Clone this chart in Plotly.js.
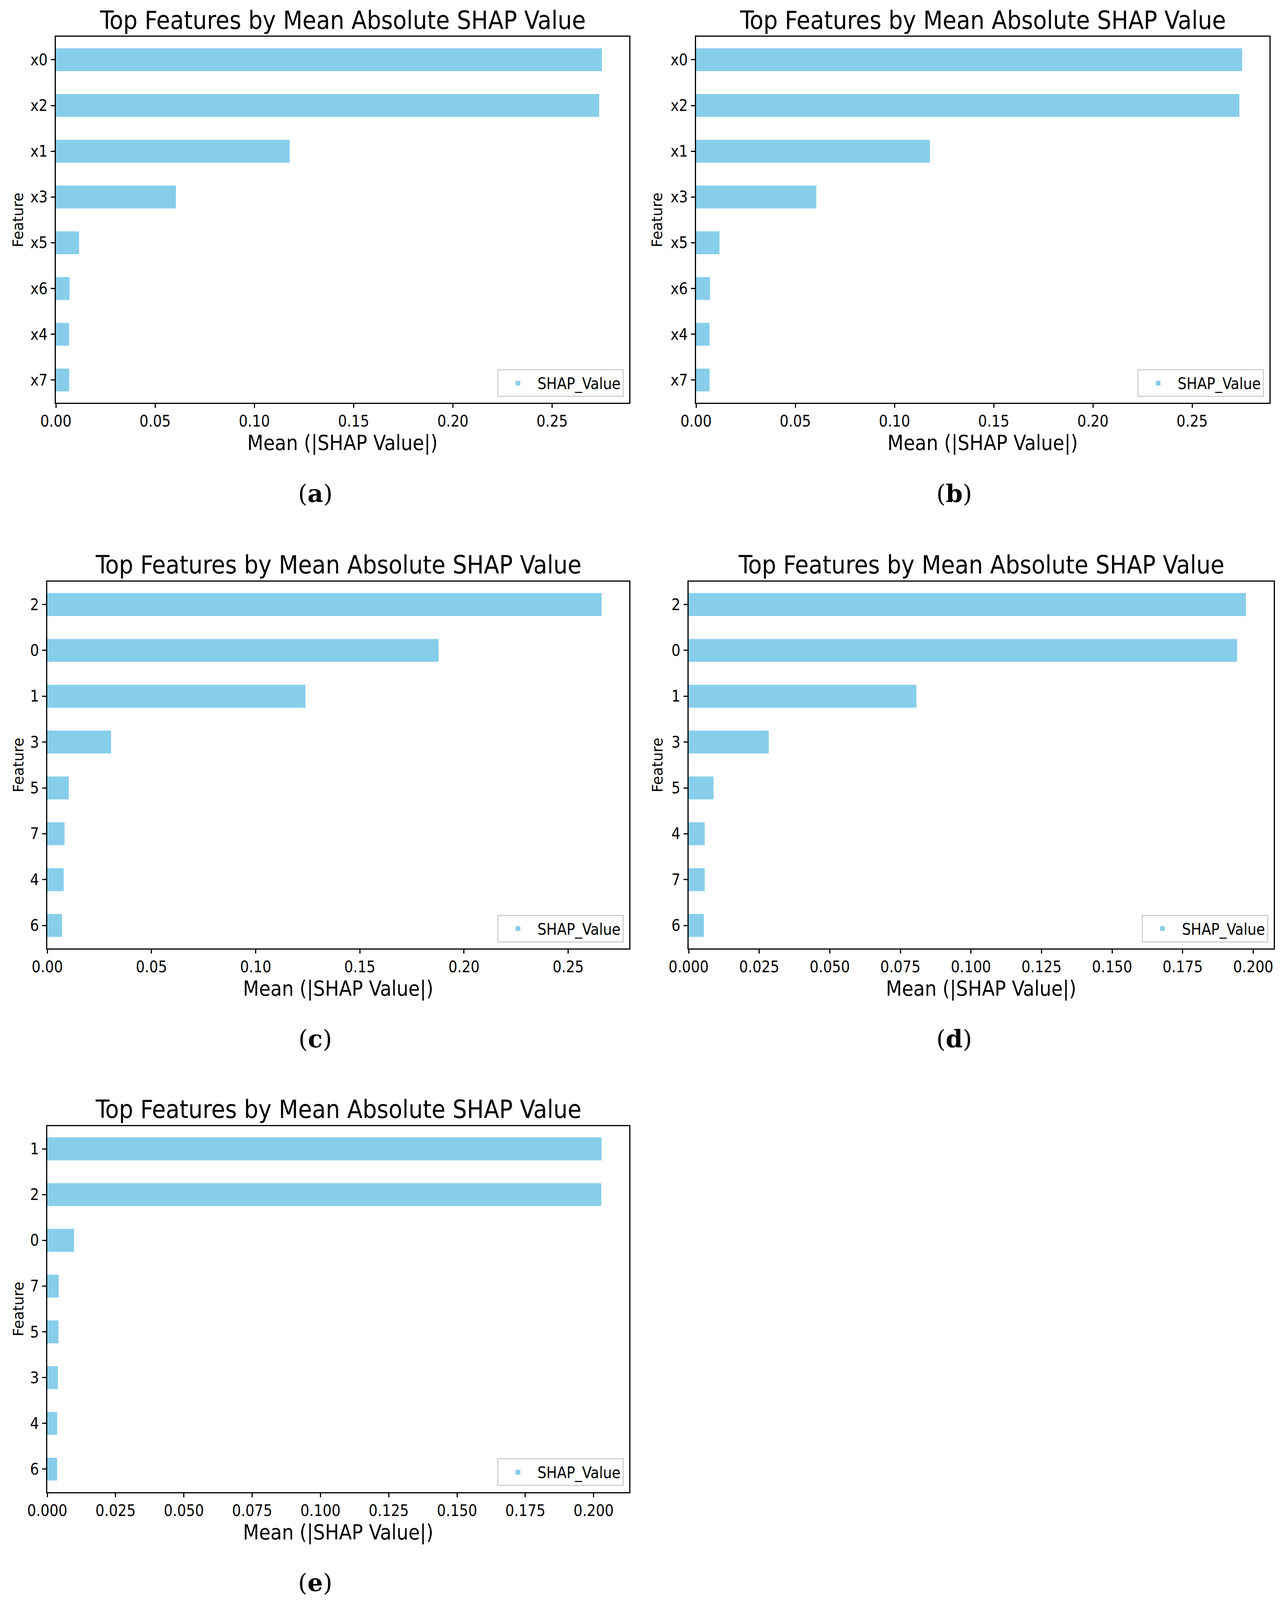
<!DOCTYPE html>
<html>
<head>
<meta charset="utf-8">
<script src="https://cdn.plot.ly/plotly-3.0.1.min.js"></script>
<style>
  html, body { margin: 0; padding: 0; background: #fff; overflow: hidden; }
  #chart { width: 3277px; }
</style>
</head>
<body>
<div id="chart"></div>
<script>
// feature order (top to bottom) and mean |SHAP| per panel
const featuresA = ['x0', 'x2', 'x1', 'x3', 'x5', 'x6', 'x4', 'x7'];
const valuesA = [0.2751, 0.2737, 0.1178, 0.0605, 0.0117, 0.0069, 0.0067, 0.0067];

const featuresB = ['x0', 'x2', 'x1', 'x3', 'x5', 'x6', 'x4', 'x7'];
const valuesB = [0.2752, 0.2738, 0.1179, 0.0606, 0.0118, 0.0070, 0.0068, 0.0068];

const featuresC = ['2', '0', '1', '3', '5', '7', '4', '6'];
const valuesC = [0.2660, 0.1878, 0.1239, 0.0306, 0.0103, 0.0083, 0.0079, 0.0071];

const featuresD = ['2', '0', '1', '3', '5', '4', '7', '6'];
const valuesD = [0.1974, 0.1943, 0.0807, 0.0284, 0.0088, 0.0057, 0.0057, 0.0054];

const featuresE = ['1', '2', '0', '7', '5', '3', '4', '6'];
const valuesE = [0.2029, 0.2028, 0.0098, 0.0042, 0.0041, 0.0039, 0.0036, 0.0036];

const panelLabels = ['a', 'b', 'c', 'd', 'e'];
const chartTitle = 'Top Features by Mean Absolute SHAP Value';
const xTitle = 'Mean (|SHAP Value|)';
const yTitle = 'Feature';
const seriesName = 'SHAP_Value';

// layout is measured on a 3277x4297 sheet; the page is drawn into whatever height the window gives
const W = 3277, REF_H = 4297;
const H = Math.min(REF_H, window.innerHeight || REF_H);
const SANS = 'DejaVu Sans Condensed, DejaVu Sans, sans-serif';
const BAR = '#87CEEB';

// plot boxes in sheet pixels: left, right, top, bottom
const boxes = [
	[143, 1611, 99, 1082],
	[1782, 3250, 99, 1082],
	[121, 1611, 1562, 2547],
	[1763, 3261, 1562, 2547],
	[121, 1611, 3024, 4007]
];
// x of the rotated "Feature" label and of the (a)..(e) caption
const yTitleX = [47, 1683, 47, 1683, 47];
const captionX = [807, 2443, 807, 2443, 807];

const panels = [
	{ f: featuresA, v: valuesA, dtick: 0.05, fmt: '.2f' },
	{ f: featuresB, v: valuesB, dtick: 0.05, fmt: '.2f' },
	{ f: featuresC, v: valuesC, dtick: 0.05, fmt: '.2f' },
	{ f: featuresD, v: valuesD, dtick: 0.025, fmt: '.3f' },
	{ f: featuresE, v: valuesE, dtick: 0.025, fmt: '.3f' }
];

const px = x => x / W;
const py = y => 1 - y / REF_H;

const traces = [];
const layout = {
	width: W,
	height: H,
	margin: { l: 0, r: 0, t: 0, b: 0 },
	paper_bgcolor: '#fff',
	plot_bgcolor: '#fff',
	showlegend: true,
	bargap: 0.5,
	annotations: []
};

panels.forEach((p, i) => {
	const n = i + 1;
	const sfx = n === 1 ? '' : String(n);
	const [l, r, t, b] = boxes[i];
	const legendKey = 'legend' + sfx;

	traces.push({
		type: 'bar',
		orientation: 'h',
		x: p.v,
		y: p.f,
		name: seriesName,
		marker: { color: BAR, line: { width: 0 } },
		xaxis: 'x' + sfx,
		yaxis: 'y' + sfx,
		legend: legendKey,
		hoverinfo: 'x+y'
	});

	const axisCommon = {
		showline: true,
		linecolor: '#000',
		linewidth: 3,
		mirror: true,
		showgrid: false,
		zeroline: false,
		ticks: 'outside',
		ticklen: 10,
		tickwidth: 3,
		tickcolor: '#000',
		automargin: false,
		tickfont: { family: SANS, size: 40, color: '#000' }
	};

	layout['xaxis' + sfx] = Object.assign({}, axisCommon, {
		domain: [px(l), px(r)],
		anchor: 'y' + sfx,
		range: [0, Math.max(...p.v) * 1.05],
		dtick: p.dtick,
		tick0: 0,
		tickformat: p.fmt
	});
	layout['yaxis' + sfx] = Object.assign({}, axisCommon, {
		domain: [py(b), py(t)],
		anchor: 'x' + sfx,
		type: 'category',
		categoryorder: 'array',
		categoryarray: p.f,
		range: [p.f.length - 0.5, -0.5]
	});

	layout[legendKey] = {
		x: px(r - 14),
		y: py(b - 16),
		xanchor: 'right',
		yanchor: 'bottom',
		bgcolor: 'rgba(255,255,255,0.8)',
		bordercolor: '#d0d0d0',
		borderwidth: 3,
		font: { family: SANS, size: 40, color: '#000' },
		itemwidth: 90
	};

	const cx = (l + r) / 2;
	layout.annotations.push(
		{
			text: chartTitle, xref: 'paper', yref: 'paper',
			x: px(cx), y: py(t - 4), xanchor: 'center', yanchor: 'bottom',
			showarrow: false, font: { family: SANS, size: 64, color: '#000' }
		},
		{
			text: xTitle, xref: 'paper', yref: 'paper',
			x: px(cx), y: py(b + 108), xanchor: 'center', yanchor: 'middle',
			showarrow: false, font: { family: SANS, size: 53, color: '#000' }
		},
		{
			text: yTitle, xref: 'paper', yref: 'paper',
			x: px(yTitleX[i]), y: py((t + b) / 2), xanchor: 'center', yanchor: 'middle',
			textangle: -90, showarrow: false,
			font: { family: 'DejaVu Sans, sans-serif', size: 37, color: '#000' }
		},
		{
			text: '(<b>' + panelLabels[i] + '</b>)', xref: 'paper', yref: 'paper',
			x: px(captionX[i]), y: py(b + 243), xanchor: 'center', yanchor: 'middle',
			showarrow: false, font: { family: 'DejaVu Serif, serif', size: 62, color: '#000' }
		}
	);
});

document.getElementById('chart').style.height = H + 'px';
Plotly.newPlot('chart', traces, layout, { staticPlot: true });
</script>
</body>
</html>
